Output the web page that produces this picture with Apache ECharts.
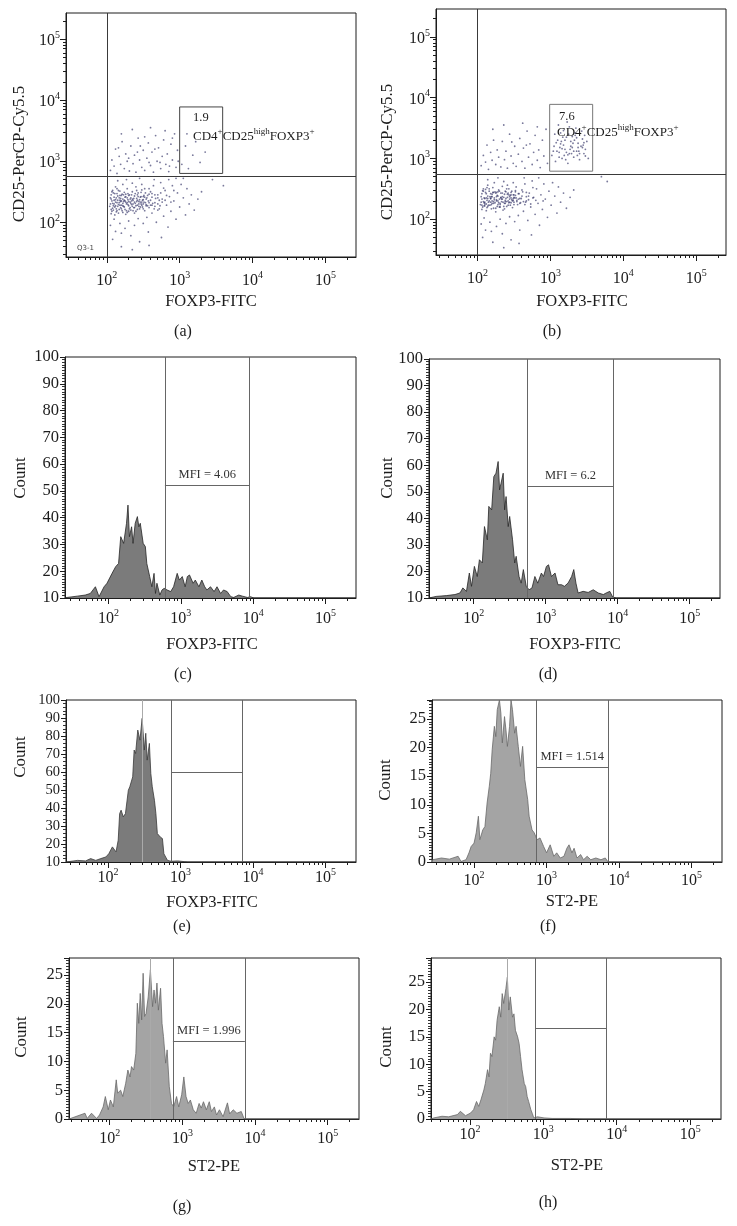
<!DOCTYPE html>
<html><head><meta charset="utf-8">
<script src="https://cdn.jsdelivr.net/npm/echarts@6/dist/echarts.min.js"></script>
<style>html,body{margin:0;padding:0;background:#fff}#c{width:737px;height:1226px}</style>
</head><body><div id="c"></div>
<script>
// ---------- DATA (x values are log10 of fluorescence intensity) ----------
const DECADES = [2, 3, 4, 5];            // tick labels 10^2 ... 10^5
const captions = ['(a)', '(b)', '(c)', '(d)', '(e)', '(f)', '(g)', '(h)'];
const xTitles = ['FOXP3-FITC', 'FOXP3-FITC', 'FOXP3-FITC', 'FOXP3-FITC', 'FOXP3-FITC', 'ST2-PE', 'ST2-PE', 'ST2-PE'];
const scatterYTitle = 'CD25-PerCP-Cy5.5';
const histYTitle = 'Count';

// panel (a) dot plot [log10 FOXP3, log10 CD25]
const scatterA = [
[2.05,2.30],[2.06,2.45],[2.07,2.18],[2.08,2.52],[2.06,2.38],[2.09,2.27],[2.10,2.41],[2.11,2.12],[2.12,2.33],[2.12,2.58],
[2.13,2.22],[2.14,2.47],[2.15,2.36],[2.16,2.29],[2.16,2.15],[2.17,2.40],[2.18,2.51],[2.19,2.24],[2.19,2.34],[2.20,2.44],
[2.21,2.19],[2.22,2.31],[2.22,2.38],[2.23,2.26],[2.24,2.49],[2.25,2.35],[2.25,2.21],[2.26,2.42],[2.27,2.30],[2.28,2.55],
[2.28,2.16],[2.29,2.37],[2.30,2.27],[2.31,2.45],[2.32,2.33],[2.33,2.20],[2.33,2.40],[2.34,2.29],[2.35,2.50],[2.36,2.36],
[2.37,2.24],[2.38,2.43],[2.39,2.31],[2.40,2.18],[2.41,2.39],[2.42,2.28],[2.43,2.48],[2.44,2.34],[2.45,2.22],[2.46,2.41],
[2.47,2.30],[2.48,2.53],[2.49,2.25],[2.50,2.37],[2.51,2.44],[2.52,2.19],[2.53,2.32],[2.55,2.40],[2.56,2.27],[2.58,2.46],
[2.07,2.35],[2.09,2.48],[2.11,2.25],[2.14,2.55],[2.17,2.32],[2.20,2.22],[2.23,2.45],[2.26,2.13],[2.29,2.47],[2.32,2.24],
[2.35,2.38],[2.38,2.15],[2.41,2.52],[2.44,2.26],[2.47,2.42],[2.50,2.30],[2.53,2.48],[2.57,2.35],[2.60,2.28],[2.62,2.41],
[2.08,2.23],[2.13,2.40],[2.18,2.28],[2.24,2.36],[2.30,2.34],[2.36,2.30],[2.42,2.36],[2.48,2.33],[2.54,2.38],[2.15,2.43],
[2.04,2.26],[2.05,2.40],[2.06,2.14],[2.07,2.50],[2.08,2.31],[2.09,2.20],[2.10,2.36],[2.11,2.47],[2.12,2.27],[2.13,2.17],
[2.14,2.32],[2.15,2.26],[2.16,2.52],[2.17,2.21],[2.18,2.44],[2.19,2.39],[2.20,2.28],[2.21,2.46],[2.22,2.16],[2.23,2.34],
[2.24,2.25],[2.25,2.41],[2.26,2.33],[2.27,2.19],[2.28,2.40],[2.29,2.29],[2.30,2.44],[2.31,2.22],[2.32,2.38],[2.33,2.31],
[2.34,2.45],[2.35,2.26],[2.36,2.19],[2.37,2.39],[2.38,2.33],[2.39,2.47],[2.40,2.27],[2.41,2.34],[2.42,2.21],[2.43,2.42],
[2.44,2.30],[2.45,2.37],[2.46,2.25],[2.47,2.49],[2.48,2.28],[2.49,2.36],[2.50,2.22],[2.51,2.33],[2.52,2.41],[2.54,2.29],
[2.56,2.44],[2.58,2.24],[2.60,2.36],[2.63,2.31],[2.65,2.22],[2.67,2.39],[2.70,2.30],[2.73,2.27],[2.76,2.33],[2.80,2.36],
[2.06,2.21],[2.10,2.30],[2.14,2.19],[2.18,2.36],[2.22,2.27],[2.26,2.46],[2.30,2.18],[2.34,2.35],[2.38,2.24],[2.42,2.45],
[2.46,2.33],[2.50,2.42],[2.54,2.27],[2.58,2.32],[2.62,2.47],[2.66,2.26],[2.70,2.40],[2.12,2.37],[2.20,2.35],[2.28,2.32],
[2.05,1.95],[2.08,1.72],[2.10,2.05],[2.12,1.85],[2.15,2.68],[2.18,1.98],[2.20,1.60],[2.22,2.62],[2.25,1.90],[2.27,2.70],
[2.30,2.02],[2.33,1.78],[2.35,2.64],[2.38,1.95],[2.40,2.58],[2.43,2.06],[2.45,1.68],[2.48,2.62],[2.50,1.98],[2.52,2.55],
[2.55,2.08],[2.57,1.84],[2.60,2.50],[2.62,2.15],[2.64,2.60],[2.66,2.32],[2.68,2.00],[2.70,2.45],[2.72,2.22],[2.74,2.65],
[2.76,2.38],[2.78,2.10],[2.80,2.52],[2.82,2.28],[2.84,1.92],[2.86,2.42],[2.88,2.18],[2.90,2.60],[2.92,2.35],[2.95,2.05],
[2.97,2.48],[3.00,2.25],[3.02,2.62],[3.05,2.40],[3.08,2.12],[3.10,2.55],[3.13,2.30],[3.16,2.45],[3.20,2.20],[3.25,2.38],
[3.30,2.50],[2.65,2.70],[2.75,1.75],[2.58,1.62],[2.35,1.55],[2.20,1.82],[2.85,2.70],[3.05,2.72],[2.95,2.72],[2.45,2.72],
[2.66,2.45],[2.72,2.36],[2.78,2.56],[2.62,2.28],[2.70,2.20],[2.82,2.44],[2.58,2.55],[2.88,2.33],[2.74,2.48],[2.92,2.52],
[2.05,2.85],[2.07,3.02],[2.10,2.92],[2.12,3.20],[2.14,2.80],[2.17,3.08],[2.19,2.95],[2.21,3.32],[2.24,2.88],[2.26,3.12],
[2.28,3.00],[2.31,2.84],[2.33,3.25],[2.36,2.96],[2.38,3.10],[2.40,2.82],[2.43,3.38],[2.45,3.02],[2.48,2.90],[2.50,3.18],
[2.52,2.85],[2.55,3.05],[2.57,3.30],[2.60,2.93],[2.62,3.15],[2.64,2.82],[2.67,3.42],[2.69,3.00],[2.71,3.22],[2.74,2.88],
[2.76,3.08],[2.78,3.35],[2.81,2.95],[2.83,3.12],[2.85,2.83],[2.88,3.28],[2.90,3.02],[2.93,3.45],[2.95,2.90],[2.97,3.18],
[2.20,3.45],[2.35,3.52],[2.60,3.55],[2.80,3.50],[2.46,3.25],[2.66,3.20],[2.16,3.22],[2.90,3.38],[2.73,2.98],[2.52,3.40],
[2.30,3.05],[2.58,2.98],[2.86,2.92],[2.42,3.15],[2.98,3.00],
[3.03,2.95],[3.08,3.25],[3.12,2.88],[3.18,3.10],[3.22,3.32],[3.28,2.98],[3.35,3.15],[3.10,3.45],[3.60,2.60],[3.45,2.70]
];
// panel (b) dot plot
const scatterB = [
[2.05,2.28],[2.06,2.42],[2.07,2.20],[2.08,2.50],[2.09,2.35],[2.10,2.25],[2.11,2.44],[2.12,2.14],[2.13,2.31],[2.14,2.56],
[2.15,2.23],[2.16,2.46],[2.17,2.37],[2.18,2.28],[2.19,2.17],[2.20,2.41],[2.21,2.52],[2.22,2.26],[2.23,2.35],[2.24,2.45],
[2.25,2.18],[2.26,2.32],[2.27,2.39],[2.28,2.24],[2.29,2.48],[2.30,2.33],[2.31,2.20],[2.32,2.43],[2.33,2.29],[2.34,2.54],
[2.35,2.15],[2.36,2.36],[2.37,2.26],[2.38,2.46],[2.39,2.34],[2.40,2.21],[2.41,2.41],[2.42,2.30],[2.43,2.50],[2.44,2.37],
[2.45,2.23],[2.46,2.44],[2.47,2.32],[2.48,2.19],[2.49,2.40],[2.50,2.28],[2.52,2.47],[2.53,2.35],[2.55,2.24],[2.57,2.42],
[2.06,2.33],[2.08,2.46],[2.10,2.22],[2.13,2.52],[2.16,2.30],[2.19,2.24],[2.22,2.44],[2.25,2.12],[2.28,2.45],[2.31,2.26],
[2.34,2.37],[2.37,2.17],[2.40,2.50],[2.43,2.27],[2.46,2.40],[2.49,2.31],[2.52,2.45],[2.56,2.33],[2.59,2.27],[2.61,2.38],
[2.09,2.27],[2.14,2.38],[2.20,2.30],[2.26,2.37],[2.32,2.35],[2.38,2.29],[2.44,2.33],[2.50,2.36],[2.12,2.42],[2.18,2.34],
[2.04,2.24],[2.05,2.37],[2.06,2.16],[2.07,2.47],[2.08,2.29],[2.09,2.22],[2.10,2.34],[2.11,2.49],[2.12,2.25],[2.13,2.19],
[2.14,2.34],[2.15,2.28],[2.16,2.50],[2.17,2.23],[2.18,2.42],[2.19,2.37],[2.20,2.26],[2.21,2.44],[2.22,2.18],[2.23,2.32],
[2.24,2.27],[2.25,2.43],[2.26,2.30],[2.27,2.21],[2.28,2.38],[2.29,2.27],[2.30,2.46],[2.31,2.24],[2.32,2.36],[2.33,2.33],
[2.34,2.43],[2.35,2.28],[2.36,2.21],[2.37,2.41],[2.38,2.31],[2.39,2.45],[2.40,2.29],[2.41,2.36],[2.42,2.23],[2.43,2.40],
[2.44,2.28],[2.45,2.39],[2.46,2.27],[2.47,2.46],[2.48,2.30],[2.49,2.34],[2.50,2.24],[2.51,2.35],[2.52,2.39],[2.54,2.31],
[2.56,2.42],[2.58,2.26],[2.60,2.34],[2.63,2.29],[2.65,2.24],[2.67,2.37],[2.70,2.32],[2.73,2.25],[2.76,2.35],[2.80,2.31],
[2.06,2.23],[2.10,2.28],[2.14,2.21],[2.18,2.34],[2.22,2.29],[2.26,2.44],[2.30,2.20],[2.34,2.33],[2.38,2.26],[2.42,2.43],
[2.46,2.35],[2.50,2.40],[2.54,2.29],[2.58,2.34],[2.62,2.45],[2.66,2.28],[2.70,2.38],[2.12,2.35],[2.20,2.37],[2.28,2.30],
[2.05,1.92],[2.07,1.70],[2.09,2.02],[2.11,1.82],[2.14,2.65],[2.17,1.95],[2.21,1.62],[2.23,2.60],[2.26,1.88],[2.28,2.68],
[2.31,2.00],[2.34,1.76],[2.36,2.62],[2.39,1.93],[2.41,2.56],[2.44,2.04],[2.46,1.66],[2.49,2.60],[2.51,1.96],[2.53,2.53],
[2.56,2.06],[2.58,1.82],[2.61,2.48],[2.63,2.13],[2.65,2.58],[2.67,2.30],[2.69,1.98],[2.71,2.43],[2.73,2.20],[2.75,2.63],
[2.77,2.36],[2.79,2.08],[2.81,2.50],[2.83,2.26],[2.85,1.90],[2.87,2.40],[2.89,2.16],[2.91,2.58],[2.93,2.33],[2.96,2.03],
[2.98,2.46],[3.01,2.23],[3.03,2.60],[3.06,2.38],[3.09,2.10],[3.11,2.53],[3.14,2.28],[3.18,2.43],[3.22,2.18],[3.27,2.36],
[2.64,2.68],[2.74,1.74],[2.57,1.60],[2.36,1.53],[2.19,1.80],[2.84,2.68],[3.32,2.48],[2.67,2.44],[2.76,2.52],[2.90,2.30],
[2.05,2.88],[2.08,3.05],[2.11,2.94],[2.13,3.22],[2.15,2.82],[2.18,3.10],[2.20,2.97],[2.22,3.30],[2.25,2.90],[2.27,3.14],
[2.29,3.02],[2.32,2.86],[2.34,3.28],[2.37,2.98],[2.39,3.12],[2.41,2.84],[2.44,3.40],[2.46,3.04],[2.49,2.92],[2.51,3.20],
[2.53,2.87],[2.56,3.07],[2.58,3.33],[2.61,2.95],[2.63,3.17],[2.65,2.84],[2.68,3.45],[2.70,3.02],[2.72,3.24],[2.75,2.90],
[2.77,3.10],[2.79,3.38],[2.82,2.97],[2.84,3.14],[2.86,2.85],[2.89,3.30],[2.91,3.04],[2.94,3.48],[2.96,2.92],[2.21,3.48],
[2.36,3.55],[2.62,3.58],[2.82,3.52],[2.47,3.27],[2.67,3.22],
[3.02,3.05],[3.05,3.20],[3.07,2.95],[3.10,3.30],[3.12,3.10],[3.14,3.42],[3.16,3.00],[3.18,3.22],[3.20,3.15],[3.22,3.35],
[3.24,2.92],[3.26,3.08],[3.28,3.28],[3.30,3.18],[3.32,3.02],[3.34,3.38],[3.36,3.12],[3.38,3.25],[3.40,2.98],[3.42,3.20],
[3.44,3.32],[3.46,3.08],[3.48,3.15],[3.50,3.28],[3.52,3.00],[3.13,3.18],[3.19,3.05],[3.25,3.40],[3.31,3.25],[3.37,3.05],
[3.43,3.45],[3.09,3.12],[3.15,3.28],[3.21,2.98],[3.27,3.15],[3.33,3.30],[3.39,3.12],[3.45,3.22],[3.11,3.55],[3.23,3.60],
[3.35,3.50],[3.06,3.40],[3.47,3.38],[3.17,3.35],[3.29,3.08],[3.70,2.70],[3.78,2.62],
[3.04,3.12],[3.08,3.26],[3.12,3.02],[3.16,3.16],[3.20,3.30],[3.24,3.06],[3.28,3.20],[3.32,3.12],[3.36,3.34],[3.40,3.08],
[3.44,3.18],[3.48,3.04],[3.14,3.24],[3.22,3.10],[3.30,3.36],[3.38,3.18],[3.46,3.26],[3.18,3.46],[3.26,3.52],[3.34,3.42]
];
// quadrant [x, y] and gate box [x0, x1, y0, y1] (log10 units)
const quadA = [2.0, 2.75];
const gateBoxA = [3.00, 3.59, 2.80, 3.89];
const quadB = [2.0, 2.74];
const gateBoxB = [2.99, 3.58, 2.79, 3.89];
const gatePctA = '1.9';
const gatePctB = '7.6';

// histograms [log10 intensity, count]
const histC = [[1.40,10],[1.43,10.2],[1.57,10.7],[1.68,11.1],[1.75,11.7],[1.82,14.2],[1.87,10.5],[1.94,14.2],[1.98,15.5],
[2.05,19.2],[2.10,21.7],[2.14,22.9],[2.17,32.9],[2.21,30.4],[2.25,37.9],[2.27,44.7],[2.29,32.9],[2.32,36.6],[2.34,30.4],
[2.37,37.9],[2.40,40.4],[2.42,36.6],[2.44,37.9],[2.48,30.4],[2.51,29.2],[2.53,22.9],[2.57,18.0],[2.60,14.2],[2.63,19.2],
[2.65,11.7],[2.67,15.5],[2.71,11.1],[2.74,13.0],[2.77,13.6],[2.81,13.0],[2.86,12.4],[2.90,14.2],[2.95,19.2],[2.98,16.7],
[3.02,18.0],[3.06,14.2],[3.09,18.0],[3.12,18.6],[3.17,15.5],[3.20,16.7],[3.25,14.2],[3.29,16.7],[3.33,14.2],[3.36,13.0],
[3.41,14.2],[3.46,12.4],[3.50,14.2],[3.55,11.7],[3.59,13.0],[3.64,12.4],[3.69,10.5],[3.73,10.2],[3.80,11.1],[3.85,10.7],
[3.92,10.2],[3.96,10.5],[4.01,10],[5.42,10]];
const histD = [[1.38,10],[1.40,10.4],[1.48,10.6],[1.62,10.9],[1.74,11.3],[1.81,11.9],[1.85,13.8],[1.90,12.5],[1.94,19.4],
[1.97,14.4],[2.01,21.9],[2.05,18.1],[2.08,24.4],[2.12,23.2],[2.15,36.9],[2.19,31.9],[2.21,44.5],[2.25,43.2],[2.28,55.7],
[2.31,57.0],[2.34,61.4],[2.36,50.7],[2.38,53.2],[2.41,57.0],[2.43,43.2],[2.45,48.2],[2.48,36.9],[2.50,40.7],[2.54,31.9],
[2.57,23.2],[2.59,25.7],[2.63,18.1],[2.66,15.6],[2.69,20.7],[2.73,14.4],[2.77,13.1],[2.81,13.8],[2.85,18.1],[2.89,15.6],
[2.94,19.4],[2.97,18.1],[3.01,21.9],[3.04,22.5],[3.08,18.1],[3.13,19.4],[3.17,15.0],[3.22,15.0],[3.26,14.4],[3.31,15.6],
[3.36,18.1],[3.39,20.7],[3.42,15.6],[3.45,11.9],[3.52,12.5],[3.59,12.1],[3.66,13.1],[3.73,11.9],[3.80,11.3],[3.84,11.9],
[3.89,12.5],[3.93,10.4],[3.98,10],[5.42,10]];
const histE = [[1.42,10],[1.44,10.4],[1.58,10.9],[1.69,10.6],[1.76,11.9],[1.83,10.9],[1.90,11.9],[1.97,12.8],[2.01,14.6],
[2.06,18.4],[2.11,15.6],[2.14,22.1],[2.16,36.9],[2.18,38.8],[2.21,35.1],[2.24,36.9],[2.28,49.9],[2.30,51.8],[2.34,57.3],
[2.36,72.2],[2.38,70.3],[2.41,83.3],[2.44,77.7],[2.47,89.8],[2.50,72.2],[2.52,81.5],[2.54,66.6],[2.57,75.9],[2.59,59.2],
[2.61,51.8],[2.64,44.3],[2.66,36.9],[2.68,25.8],[2.72,23.9],[2.75,23.0],[2.77,14.6],[2.82,10.9],[2.87,10.4],[2.96,10.6],
[3.05,10.2],[3.10,10],[5.42,10]];
const histF = [[1.42,0],[1.43,0.4],[1.55,0.7],[1.66,0.5],[1.78,1.0],[1.82,0.1],[1.89,0.4],[1.93,1.6],[1.96,2.7],[2.00,3.3],
[2.03,5.1],[2.06,8.0],[2.08,3.9],[2.12,5.6],[2.15,6.2],[2.18,10.3],[2.21,13.2],[2.23,15.5],[2.25,19.6],[2.28,23.7],
[2.30,21.9],[2.32,26.6],[2.35,28.3],[2.37,26.0],[2.39,20.8],[2.42,25.4],[2.44,23.1],[2.46,20.2],[2.49,23.7],[2.51,28.3],
[2.53,26.6],[2.56,22.5],[2.58,23.7],[2.61,20.2],[2.64,16.7],[2.67,20.2],[2.70,14.4],[2.74,10.9],[2.76,8.0],[2.80,5.6],
[2.83,5.1],[2.87,3.9],[2.91,4.2],[2.96,2.7],[3.00,1.6],[3.05,3.0],[3.10,1.0],[3.14,1.6],[3.19,0.7],[3.24,1.0],[3.28,2.4],
[3.31,3.0],[3.35,1.6],[3.38,2.4],[3.42,0.7],[3.47,1.3],[3.51,0.4],[3.56,1.0],[3.61,0.4],[3.68,0.7],[3.75,0.4],[3.81,0.7],
[3.85,0],[5.42,0]];
const histG = [[1.44,0],[1.45,0],[1.66,1.0],[1.69,0.1],[1.75,1.0],[1.82,0.1],[1.86,0.7],[1.91,2.1],[1.94,3.9],[1.98,1.6],
[2.01,3.3],[2.05,2.1],[2.09,6.8],[2.11,4.5],[2.15,5.0],[2.18,3.9],[2.22,6.2],[2.25,8.5],[2.28,7.3],[2.30,9.1],[2.33,8.5],
[2.36,11.4],[2.38,20.1],[2.40,16.6],[2.42,21.8],[2.44,17.2],[2.46,25.3],[2.48,17.8],[2.50,18.3],[2.53,21.2],[2.56,25.9],
[2.59,19.5],[2.61,22.4],[2.63,20.1],[2.65,23.6],[2.67,18.9],[2.70,22.7],[2.72,16.6],[2.74,14.3],[2.77,9.7],[2.79,12.0],
[2.82,5.6],[2.85,2.7],[2.88,2.1],[2.92,3.9],[2.95,2.1],[2.99,4.2],[3.02,7.3],[3.05,3.9],[3.08,2.7],[3.11,3.3],[3.15,1.6],
[3.19,1.0],[3.23,2.7],[3.26,1.9],[3.29,3.0],[3.33,1.6],[3.37,3.0],[3.40,1.3],[3.44,2.1],[3.47,0.7],[3.51,1.6],[3.56,0.4],
[3.62,2.8],[3.65,0.9],[3.70,1.6],[3.75,1.0],[3.81,1.3],[3.85,0],[5.43,0]];
const histH = [[1.47,0],[1.51,0.2],[1.62,0.5],[1.71,0.4],[1.83,0.8],[1.87,1.4],[1.94,0.6],[2.01,1.1],[2.05,1.7],[2.09,3.2],
[2.12,2.3],[2.15,3.5],[2.19,5.3],[2.21,6.5],[2.24,9.0],[2.26,7.7],[2.28,12.0],[2.30,11.4],[2.33,15.0],[2.35,14.4],
[2.37,18.0],[2.40,20.5],[2.42,18.6],[2.44,22.9],[2.46,21.1],[2.49,23.8],[2.51,25.9],[2.53,19.9],[2.55,22.3],[2.58,18.6],
[2.60,19.2],[2.62,16.2],[2.65,15.0],[2.67,13.8],[2.69,11.4],[2.71,9.0],[2.74,6.5],[2.76,5.9],[2.78,4.1],[2.80,3.2],
[2.83,1.7],[2.85,1.0],[2.87,0.2],[2.92,0.4],[3.01,0.2],[3.12,0.1],[3.37,0.1],[3.55,0],[5.42,0]];

// histogram gates [left, right, marker level], peak reference lines, MFI labels
const gateC = [2.78, 3.95, 52.2];
const gateD = [2.75, 3.94, 52.2];
const gateE = [2.87, 3.85, 60.1];
const gateF = [2.86, 3.85, 16.6];
const gateG = [2.87, 3.86, 13.5];
const gateH = [2.89, 3.86, 16.5];
const peakLineE = 2.47, peakLineG = 2.56, peakLineH = 2.51;
const mfiLabels = ['MFI = 4.06', 'MFI = 6.2', '', 'MFI = 1.514', 'MFI = 1.996', ''];

// ---------- LAYOUT ----------
const FONT = '"Liberation Serif", "DejaVu Serif", serif';
const INK = '#1c1c1c';
const grids = [
  {left:66, top:13, width:290, height:244},
  {left:436, top:9, width:290, height:246},
  {left:65, top:357, width:291, height:241},
  {left:429, top:359, width:291, height:239},
  {left:66, top:700, width:290, height:162},
  {left:432, top:700, width:290, height:162},
  {left:69, top:958, width:290, height:161},
  {left:431, top:958, width:290, height:161}
];
const xLabelMargins = [12, 12, 9, 9, 4, 7, 8, 4];
const xRanges = [[1.44,5.42],[1.43,5.41],[1.40,5.42],[1.38,5.42],[1.42,5.42],[1.42,5.42],[1.44,5.43],[1.47,5.42]];
const yRanges = [[1.43,5.43],[1.41,5.46],[10,100],[10,100],[10,100],[0,28.3],[0,27.95],[0,29.4]];

function minorLogValues(min, max) {
  const out = [];
  for (let n = 1; n <= 5; n++) for (let k = 2; k <= 9; k++) {
    const v = n + Math.log10(k);
    if (v > min && v < max) out.push(v);
  }
  return out;
}
const supRich = {
  b: {fontSize: 16, fontFamily: FONT, color: INK, lineHeight: 20, verticalAlign: 'bottom'},
  s: {fontSize: 10, fontFamily: FONT, color: INK, lineHeight: 20, verticalAlign: 'top', padding: [1, 0, 0, 0]}
};
const supFmt = v => '{b|10}{s|' + Math.round(v) + '}';

function logAxisPair(dim, g, range) {
  const pos = dim === 'x' ? 'bottom' : 'left';
  const major = {
    gridIndex: g, type: 'value', min: range[0], max: range[1], position: pos,
    axisLine: {show: true, onZero: false, lineStyle: {color: INK, width: 1}},
    splitLine: {show: false},
    axisTick: {show: true, customValues: DECADES, length: 6, lineStyle: {color: INK}},
    axisLabel: {customValues: DECADES, formatter: supFmt, rich: supRich, margin: dim === 'x' ? xLabelMargins[g] : 6}
  };
  const minor = {
    gridIndex: g, type: 'value', min: range[0], max: range[1], position: pos,
    axisLine: {show: false, onZero: false}, splitLine: {show: false},
    axisTick: {show: true, customValues: minorLogValues(range[0], range[1]), length: 3, lineStyle: {color: INK}},
    axisLabel: {show: false}
  };
  return [major, minor];
}

const xAxis = [], yAxis = [], series = [];
const xIdx = [], yIdx = [];
for (let g = 0; g < 8; g++) {
  xIdx.push(xAxis.length);
  xAxis.push(...logAxisPair('x', g, xRanges[g]));
  yIdx.push(yAxis.length);
  if (g < 2) {
    yAxis.push(...logAxisPair('y', g, yRanges[g]));
  } else {
    const isCount100 = g <= 4;
    yAxis.push({
      gridIndex: g, type: 'value', min: yRanges[g][0], max: yRanges[g][1],
      interval: isCount100 ? 10 : 5, position: 'left',
      axisLine: {show: true, onZero: false, lineStyle: {color: INK}},
      splitLine: {show: false},
      axisTick: {show: true, length: 5, lineStyle: {color: INK}},
      minorTick: {show: true, splitNumber: g === 4 ? 5 : 10, length: 3, lineStyle: {color: '#333'}},
      axisLabel: {fontSize: g === 4 ? 14.5 : 16.5, fontFamily: FONT, color: INK, margin: 6,
                  showMaxLabel: isCount100, showMinLabel: true}
    });
  }
}

// dot plots
const scatters = [[scatterA, quadA, gateBoxA], [scatterB, quadB, gateBoxB]];
scatters.forEach(([pts, quad, box], g) => {
  series.push({
    type: 'scatter', xAxisIndex: xIdx[g], yAxisIndex: yIdx[g], data: pts,
    symbolSize: 1.8, itemStyle: {color: 'rgba(40,40,95,0.78)'}, silent: true, animation: false,
    markLine: {silent: true, symbol: 'none', animation: false, label: {show: false},
      lineStyle: {color: '#3a3a3a', width: 1, type: 'solid'},
      data: [{xAxis: quad[0]}, {yAxis: quad[1]}]}
  });
  series.push({
    type: 'line', xAxisIndex: xIdx[g], yAxisIndex: yIdx[g], silent: true, animation: false,
    symbol: 'none', lineStyle: {color: g === 0 ? '#444' : '#777', width: 1},
    data: [[box[0], box[2]], [box[1], box[2]], [box[1], box[3]], [box[0], box[3]], [box[0], box[2]]]
  });
});

// histograms
const hists = [
  [histC, gateC, null, '#7b7b7b', '#262626'],
  [histD, gateD, null, '#7b7b7b', '#262626'],
  [histE, gateE, peakLineE, '#7b7b7b', '#3a3a3a'],
  [histF, gateF, null, '#a4a4a4', '#6a6a6a'],
  [histG, gateG, peakLineG, '#a4a4a4', '#6a6a6a'],
  [histH, gateH, peakLineH, '#a4a4a4', '#6a6a6a']
];
hists.forEach(([data, gate, peak, fill, stroke], i) => {
  const g = i + 2;
  const ml = [
    {xAxis: gate[0]}, {xAxis: gate[1]},
    [{coord: [gate[0], gate[2]],
      label: mfiLabels[i] ? {show: true, position: 'insideMiddleTop', formatter: mfiLabels[i],
        fontSize: 12.5, fontFamily: FONT, color: '#333', distance: 4} : {show: false}},
     {coord: [gate[1], gate[2]]}]
  ];
  if (peak !== null) ml.push({xAxis: peak, lineStyle: {color: '#aaaaaa', width: 1, type: 'solid'}});
  series.push({
    type: 'line', xAxisIndex: xIdx[g], yAxisIndex: yIdx[g], data, silent: true, animation: false,
    symbol: 'none', showSymbol: false, lineStyle: {width: 0.8, color: stroke},
    areaStyle: {color: fill, opacity: 1, origin: 'start'}, z: 2,
    markLine: {silent: true, symbol: 'none', animation: false, label: {show: false},
      lineStyle: {color: '#666', width: 1, type: 'solid'}, data: ml}
  });
});

// ---------- TEXT ----------
function txt(x, y, text, size, opts) {
  return Object.assign({type: 'text', x, y, silent: true, z: 10,
    style: {text, fontSize: size, fontFamily: FONT, fill: INK, align: 'center', verticalAlign: 'middle'}}, opts || {});
}
function vtxt(x, y, text, size) {
  return {type: 'text', x, y, rotation: Math.PI / 2, silent: true, z: 10,
    style: {text, fontSize: size, fontFamily: FONT, fill: INK, align: 'center', verticalAlign: 'middle'}};
}
const captionPos = [[183,332],[552,332],[183,675],[548,675],[182,927],[548,927],[182,1207],[548,1203]];
const xTitlePos = [[211,302],[582,302],[212,645],[575,645],[212,903],[572,902],[214,1167],[577,1166]];
const yTitlePos = [[20,154],[388,152],[21,478],[388,478],[21,757],[386,780],[22,1037],[387,1047]];
const graphic = [];
captions.forEach((c, i) => graphic.push(txt(captionPos[i][0], captionPos[i][1], c, 16)));
xTitles.forEach((t, i) => graphic.push(txt(xTitlePos[i][0], xTitlePos[i][1], t, 16.5)));
yTitlePos.forEach((p, i) => graphic.push(vtxt(p[0], p[1], i < 2 ? scatterYTitle : histYTitle, 17)));
const cdRich = {
  b: {fontSize: 13, fontFamily: FONT, fill: INK, lineHeight: 17, verticalAlign: 'bottom'},
  s: {fontSize: 9, fontFamily: FONT, fill: INK, lineHeight: 17, verticalAlign: 'top', padding: [1, 0, 0, 0]}
};
const cdText = '{b|CD4}{s|+}{b|CD25}{s|high}{b|FOXP3}{s|+}';
graphic.push({type: 'text', x: 193, y: 118, silent: true, z: 10,
  style: {text: gatePctA, fontSize: 12.5, fontFamily: FONT, fill: INK, align: 'left', verticalAlign: 'middle'}});
graphic.push({type: 'text', x: 193, y: 135, silent: true, z: 10,
  style: {text: cdText, rich: cdRich, align: 'left', verticalAlign: 'middle'}});
graphic.push({type: 'text', x: 559, y: 117, silent: true, z: 10,
  style: {text: gatePctB, fontSize: 12.5, fontFamily: FONT, fill: INK, align: 'left', verticalAlign: 'middle'}});
graphic.push({type: 'text', x: 557, y: 131, silent: true, z: 10,
  style: {text: cdText, rich: cdRich, align: 'left', verticalAlign: 'middle'}});
graphic.push({type: 'text', x: 77, y: 248, silent: true, z: 10,
  style: {text: 'Q3-1', fontSize: 7, fontFamily: 'DejaVu Sans', fill: '#444', align: 'left', verticalAlign: 'middle'}});

const chart = echarts.init(document.getElementById('c'), null, {renderer: 'canvas'});
chart.setOption({
  animation: false,
  backgroundColor: '#ffffff',
  grid: grids.map(g => Object.assign({show: true, borderColor: INK, borderWidth: 1, backgroundColor: 'transparent', containLabel: false}, g)),
  xAxis, yAxis, series, graphic
});
</script></body></html>
